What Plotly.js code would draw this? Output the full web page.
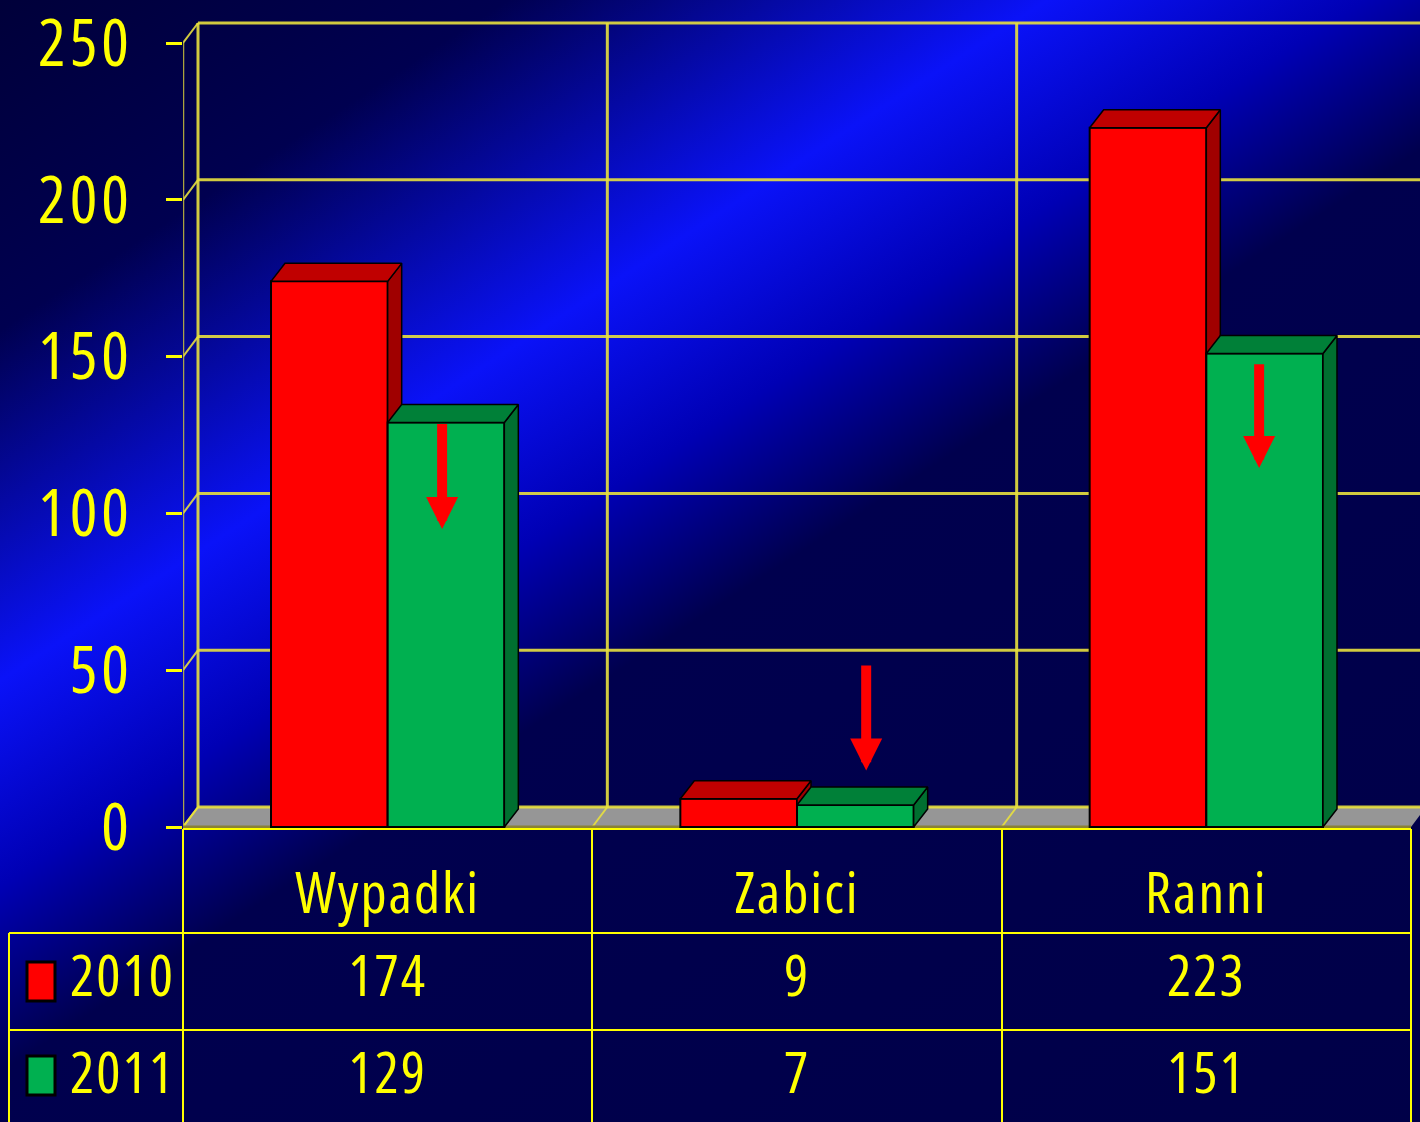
<!DOCTYPE html>
<html>
<head>
<meta charset="utf-8">
<script src="https://cdn.plot.ly/plotly-3.0.1.min.js"></script>
<style>
html, body { margin:0; padding:0; overflow:hidden; background:#000048; }
text { font-stretch: 75% !important; letter-spacing: 2px; }
.ytick text { letter-spacing: 4px; }
#chart {
  width:1420px; height:1140px;
  background: linear-gradient(147deg, #00003a 0%, #000050 16%, #0a12f8 33%, #0000b4 43%, #00004e 52%, #000048 100%);
}
</style>
</head>
<body>
<div id="chart"></div>
<script>
// ---------------- data ----------------
const categories = ['Wypadki', 'Zabici', 'Ranni'];
const seriesNames = ['2010', '2011'];
const values2010 = [174, 9, 223];
const values2011 = [129, 7, 151];
const yTickVals = [0, 50, 100, 150, 200, 250];
const yTickText = ['0', '50', '100', '150', '200', '250'];
// red "decrease" arrows (value where arrow starts, value it points to)
const arrowFrom = [129, 52, 148];
const arrowTo = [95, 18, 114.5];
const arrowShift = [0.133, 0.169, 0.129];   // position within category

// ---------------- geometry (layout only) ----------------
const W = 1420, H = 1140;
const X0 = 183;            // px of front-left corner
const CAT = 1228 / 3;      // px per category
const Y0 = 827;            // px of value 0
const PPU = 784 / 250;     // px per value unit
const wallDX = 15 / CAT, wallDY = 20 / PPU;
const barDX = 14 / CAT, barDY = 18 / PPU;
const BW = 0.285;          // bar width (category units)
const xMin = -0.5, xMax = -0.5 + (W - X0) / CAT;
const yMin = -5 / PPU, yMax = Y0 / PPU;
const px = p => p / W, py = p => (H - p) / H;

const FONT = 'Open Sans, DejaVu Sans, sans-serif';
const YEL = '#FFFF00';
const GRID = 'rgba(232,224,62,0.9)';

const redFront = '#FF0000', redTop = '#C00000', redSide = '#A00000';
const grnFront = '#00B050', grnTop = '#008038', grnSide = '#006F30';

function faces(vals, offset, xa, ya, topColor, sideColor, name) {
  const sx = [], sy = [], tx = [], ty = [];
  vals.forEach((v, i) => {
    const xl = i + offset, xr = i + offset + BW;
    sx.push(xr, xr + barDX, xr + barDX, xr, xr, null);
    sy.push(0, barDY, v + barDY, v, 0, null);
    tx.push(xl, xl + barDX, xr + barDX, xr, xl, null);
    ty.push(v, v + barDY, v + barDY, v, v, null);
  });
  const common = {type:'scatter', mode:'lines', fill:'toself', xaxis:xa, yaxis:ya,
                  hoverinfo:'skip', showlegend:false, line:{color:'#000000', width:1.5}};
  return [
    Object.assign({}, common, {x:sx, y:sy, fillcolor:sideColor, name:name + ' side'}),
    Object.assign({}, common, {x:tx, y:ty, fillcolor:topColor, name:name + ' top'})
  ];
}

const xIdx = categories.map((c, i) => i);

const traces = [
  {type:'bar', x:xIdx, y:values2010, offset:-BW, width:BW, name:seriesNames[0],
   marker:{color:redFront, line:{color:'#000000', width:2}}, xaxis:'x', yaxis:'y',
   showlegend:false, hoverinfo:'skip'},
  ...faces(values2010, -BW, 'x', 'y', redTop, redSide, seriesNames[0]),
  {type:'bar', x:xIdx, y:values2011, offset:0, width:BW, name:seriesNames[1],
   marker:{color:grnFront, line:{color:'#000000', width:2}}, xaxis:'x2', yaxis:'y2',
   showlegend:false, hoverinfo:'skip'},
  ...faces(values2011, 0, 'x2', 'y2', grnTop, grnSide, seriesNames[1]),
  {type:'table',
   domain:{x:[px(9), px(1411)], y:[0, py(862)]},
   columnwidth:[174, CAT, CAT, CAT],
   header:{values:[''].concat(categories), height:83, align:'center',
           font:{family:FONT, size:57, color:YEL},
           fill:{color:'rgba(0,0,0,0)'},
           line:{color:'rgba(0,0,0,0)', width:0}},
   cells:{values:[seriesNames].concat(categories.map((c, i) => [values2010[i], values2011[i]])),
          height:97, align:['right', 'center', 'center', 'center'],
          font:{family:FONT, size:57, color:YEL},
          fill:{color:'rgba(0,0,0,0)'},
          line:{color:'rgba(0,0,0,0)', width:0}}}
];

// ---------------- 3D frame shapes ----------------
const shapes = [];
const L = (x0, y0, x1, y1, color, width) => shapes.push({type:'line', xref:'x', yref:'y',
  x0, y0, x1, y1, layer:'below', line:{color, width}});
// floor
shapes.push({type:'path', xref:'x', yref:'y', layer:'below',
  path:`M ${xMin},0 L 2.5,0 L ${2.5 + wallDX},${wallDY} L ${xMin + wallDX},${wallDY} Z`,
  fillcolor:'#969696', line:{width:0}});
// back wall horizontals + connectors to front axis
yTickVals.forEach(v => {
  L(xMin + wallDX, v + wallDY, xMax + 0.1, v + wallDY, GRID, 3);
  L(xMin, v, xMin + wallDX, v + wallDY, GRID, 2);
});
// back wall verticals and floor diagonals
[-0.5, 0.5, 1.5].forEach(b => {
  L(b + wallDX, wallDY, b + wallDX, 250 + wallDY, GRID, 3);
  L(b, 0, b + wallDX, wallDY, GRID, 2);
});
// front axis line
L(xMin, 0, xMin, 250, 'rgba(200,190,60,0.85)', 2.5);
// floor front edge
L(xMin, 0, 2.5, 0, '#8a8234', 3);

// table grid (paper coords)
const P = (x0, y0, x1, y1) => shapes.push({type:'line', xref:'paper', yref:'paper',
  x0:px(x0), y0:py(y0), x1:px(x1), y1:py(y1), layer:'above', line:{color:YEL, width:2}});
P(183, 829, 1411, 829);
P(9, 933, 1411, 933);
P(9, 1030, 1411, 1030);
P(9, 933, 9, 1140);
[183, 592, 1002, 1411].forEach(x => P(x, 829, x, 1140));

// legend keys inside the table
const keyColors = [redFront, grnFront];
const keyTop = [962, 1056];
keyColors.forEach((c, i) => shapes.push({type:'rect', xref:'paper', yref:'paper',
  x0:px(27), x1:px(55), y0:py(keyTop[i] + 39), y1:py(keyTop[i]),
  fillcolor:c, line:{color:'#000000', width:3}, layer:'above'}));

// ---------------- arrows ----------------
const annotations = categories.map((c, i) => ({
  xref:'x', yref:'y', axref:'x', ayref:'y',
  x:i + arrowShift[i], y:arrowTo[i], ax:i + arrowShift[i], ay:arrowFrom[i],
  text:'', showarrow:true, arrowhead:2, arrowsize:0.64, arrowwidth:10,
  arrowcolor:'#FF0000', standoff:0
}));

const layout = {
  width:W, height:H,
  margin:{l:0, r:0, t:0, b:0},
  paper_bgcolor:'rgba(0,0,0,0)', plot_bgcolor:'rgba(0,0,0,0)',
  showlegend:false,
  xaxis:{domain:[X0 / W, 1], range:[xMin, xMax], visible:false, fixedrange:true},
  yaxis:{domain:[py(Y0 + 5), 1], range:[yMin, yMax],
         tickmode:'array', tickvals:yTickVals, ticktext:yTickText,
         ticks:'outside', ticklen:16, tickwidth:3, tickcolor:YEL,
         ticklabelstandoff:20, ticklabeloverflow:'allow',
         tickfont:{family:FONT, size:65, color:YEL},
         showgrid:false, zeroline:false, showline:false, fixedrange:true},
  xaxis2:{overlaying:'x', matches:'x', range:[xMin, xMax], visible:false},
  yaxis2:{overlaying:'y', range:[yMin, yMax], visible:false},
  shapes, annotations
};

Plotly.newPlot('chart', traces, layout, {displayModeBar:false, staticPlot:true});
</script>
</body>
</html>
